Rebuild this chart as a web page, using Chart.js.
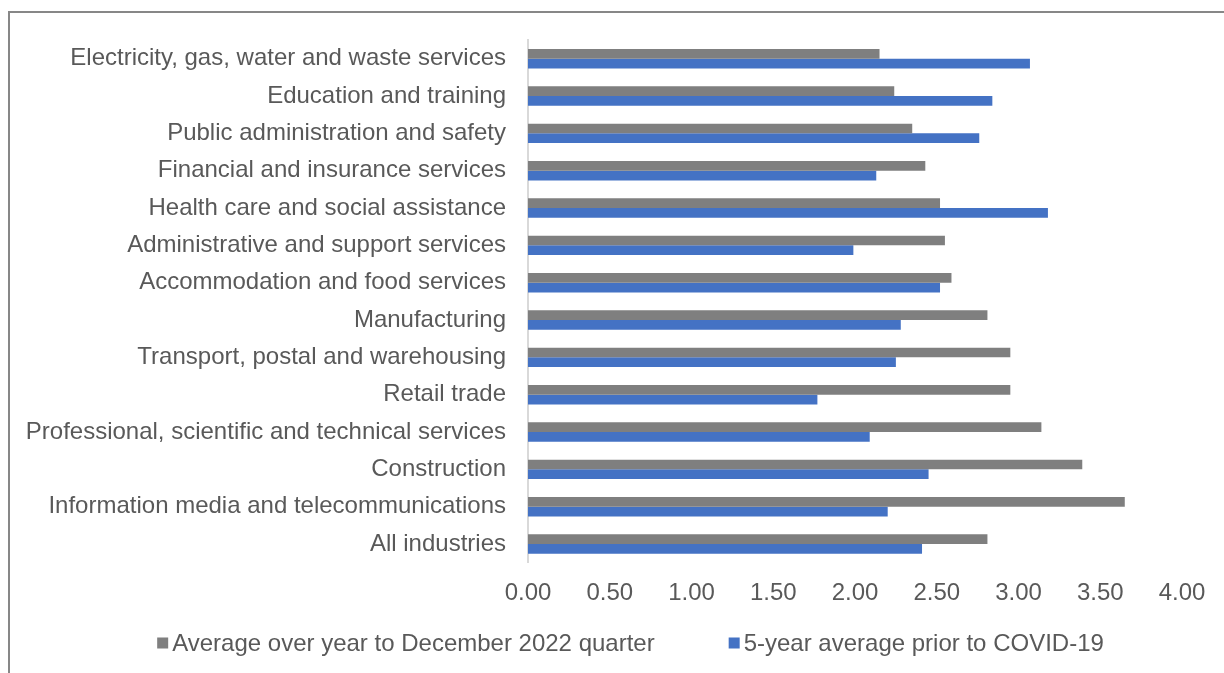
<!DOCTYPE html>
<html>
<head>
<meta charset="utf-8">
<title>Hours by industry</title>
<script src="https://cdn.jsdelivr.net/npm/chart.js@4.4.0/dist/chart.umd.min.js"></script>
<style>
  html, body { margin: 0; padding: 0; background: #fff; overflow: hidden; }
  #frame {
    position: absolute; left: 8px; top: 11px;
    width: 1400px; height: 800px;
    border-top: 2px solid #878787; border-left: 2px solid #878787;
  }
  #wrap { position: absolute; left: 0; top: 0; width: 1224px; height: 673px; }
</style>
</head>
<body>
<div id="frame"></div>
<div id="wrap"><canvas id="myChart" width="1224" height="673"></canvas></div>
<script>
// industrias, de arriba hacia abajo
const industrias = [
  "Electricity, gas, water and waste services",
  "Education and training",
  "Public administration and safety",
  "Financial and insurance services",
  "Health care and social assistance",
  "Administrative and support services",
  "Accommodation and food services",
  "Manufacturing",
  "Transport, postal and warehousing",
  "Retail trade",
  "Professional, scientific and technical services",
  "Construction",
  "Information media and telecommunications",
  "All industries"
];
const promedio2022 = [2.15, 2.24, 2.35, 2.43, 2.52, 2.55, 2.59, 2.81, 2.95, 2.95, 3.14, 3.39, 3.65, 2.81];
const promedioPreCovid = [3.07, 2.84, 2.76, 2.13, 3.18, 1.99, 2.52, 2.28, 2.25, 1.77, 2.09, 2.45, 2.20, 2.41];
const valoresEjeX = [0, 0.5, 1, 1.5, 2, 2.5, 3, 3.5, 4];

const nombreSerie1 = "Average over year to December 2022 quarter";
const nombreSerie2 = "5-year average prior to COVID-19";

const colorTexto = "#595959";
const fuente = "Arial, 'Liberation Sans', sans-serif";
const tamano = 24;

// leyenda propia: cuadrito pegado al texto, como en Excel
const leyendaAbajo = {
  id: "leyendaAbajo",
  afterDraw(chart) {
    const ctx = chart.ctx;
    const caja = 11, separacion = 4, entreItems = 74;
    const yCentro = 643;
    ctx.save();
    ctx.font = `${tamano}px ${fuente}`;
    ctx.textBaseline = "middle";
    const items = chart.data.datasets.map((ds) => ({
      texto: ds.label,
      color: ds.backgroundColor,
      ancho: caja + separacion + ctx.measureText(ds.label).width
    }));
    const total = items.reduce((s, it) => s + it.ancho, 0) + entreItems * (items.length - 1);
    let x = 630.5 - total / 2;
    items.forEach((it) => {
      ctx.fillStyle = it.color;
      ctx.fillRect(x, yCentro - caja / 2, caja, caja);
      ctx.fillStyle = colorTexto;
      ctx.fillText(it.texto, x + caja + separacion, yCentro + 1);
      x += it.ancho + entreItems;
    });
    ctx.restore();
  }
};

const config = {
  type: "bar",
  data: {
    labels: industrias,
    datasets: [
      {
        label: nombreSerie1,
        data: promedio2022,
        backgroundColor: "#7f7f7f",
        borderWidth: 0
      },
      {
        label: nombreSerie2,
        data: promedioPreCovid,
        backgroundColor: "#4472c4",
        borderWidth: 0
      }
    ]
  },
  options: {
    indexAxis: "y",
    responsive: false,
    animation: false,
    categoryPercentage: 0.52,
    barPercentage: 1,
    layout: { padding: { top: 40, right: 42, left: 0, bottom: 65.3 } },
    plugins: {
      tooltip: { enabled: false },
      legend: { display: false }
    },
    scales: {
      x: {
        min: 0,
        max: 4,
        afterFit: (scale) => { scale.height = 45; },
        afterBuildTicks: (scale) => {
          scale.ticks = valoresEjeX.map((v) => ({ value: v }));
        },
        grid: { display: false, drawTicks: false },
        border: { display: false },
        ticks: {
          color: colorTexto,
          font: { family: fuente, size: tamano },
          padding: 16.5,
          callback: (v) => Number(v).toFixed(2)
        }
      },
      y: {
        afterFit: (scale) => { scale.width = 528; },
        grid: { display: false, drawTicks: false },
        border: { display: true, color: "#d9d9d9", width: 2 },
        ticks: {
          color: colorTexto,
          font: { family: fuente, size: tamano },
          padding: 22
        }
      }
    }
  },
  plugins: [leyendaAbajo]
};

const myChart = new Chart(document.getElementById("myChart"), config);
</script>
</body>
</html>
